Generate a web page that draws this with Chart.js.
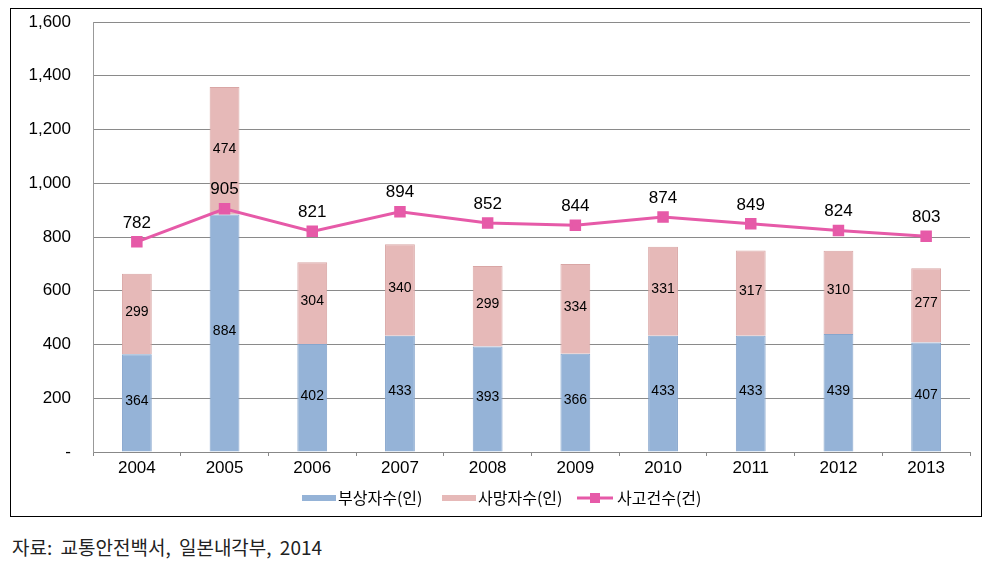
<!DOCTYPE html>
<html>
<head>
<meta charset="utf-8">
<script src="https://cdn.jsdelivr.net/npm/chart.js@4"></script>
<style>
  body { margin: 0; background: #fff; }
  #wrap { position: relative; width: 996px; height: 563px; background: #fff; }
  #box { position: absolute; left: 10px; top: 8px; width: 970px; height: 507px; border: 1px solid #000; }
  #src { position: absolute; left: 12px; top: 533px; font: 19px "Noto Sans CJK KR", sans-serif; color: #222; word-spacing: 4px; }
</style>
</head>
<body>
<div id="wrap">
  <div id="box"><canvas id="chart" width="970" height="507"></canvas></div>
  <div id="src">자료: 교통안전백서, 일본내각부, 2014</div>
</div>
<script>
// values
const years = ['2004', '2005', '2006', '2007', '2008', '2009', '2010', '2011', '2012', '2013'];
const injured = [364, 884, 402, 433, 393, 366, 433, 433, 439, 407];
const deaths = [299, 474, 304, 340, 299, 334, 331, 317, 310, 277];
const accidents = [782, 905, 821, 894, 852, 844, 874, 849, 824, 803];
const seriesNames = ['부상자수(인)', '사망자수(인)', '사고건수(건)'];

const blue = '#95B3D7';
const pink = '#E6B9B8';
const magenta = '#E65AA8';

// value labels inside bars and above line points
const valueLabels = {
  id: 'valueLabels',
  afterDatasetsDraw(chart) {
    const c = chart.ctx;
    c.save();
    c.textAlign = 'center';
    c.textBaseline = 'middle';
    c.fillStyle = '#000';
    chart.data.datasets.forEach((ds, i) => {
      const meta = chart.getDatasetMeta(i);
      meta.data.forEach((el, j) => {
        if (ds.type === 'line') {
          c.font = '17px "Liberation Sans", Arial, sans-serif';
          c.fillText(ds.data[j].toLocaleString(), el.x, el.y - 19);
        } else {
          c.font = '14px "Liberation Sans", Arial, sans-serif';
          c.fillText(ds.data[j], el.x, (el.y + el.base) / 2 - 2);
        }
      });
    });
    c.restore();
  }
};

// legend drawn like the original (wide thin swatches)
const customLegend = {
  id: 'customLegend',
  afterDraw(chart) {
    const c = chart.ctx;
    const y = 489;
    c.save();
    c.font = '16px "Noto Sans CJK KR", sans-serif';
    c.textBaseline = 'middle';
    c.fillStyle = blue;
    c.fillRect(291, y - 3, 34, 6);
    c.fillStyle = pink;
    c.fillRect(431, y - 3, 34, 6);
    c.strokeStyle = magenta;
    c.lineWidth = 3;
    c.beginPath();
    c.moveTo(566, y);
    c.lineTo(602, y);
    c.stroke();
    c.fillStyle = magenta;
    c.fillRect(579, y - 5, 10, 10);
    c.fillStyle = '#000';
    c.fillText(seriesNames[0], 327, y);
    c.fillText(seriesNames[1], 467, y);
    c.fillText(seriesNames[2], 606, y);
    c.restore();
  }
};

new Chart(document.getElementById('chart'), {
  data: {
    labels: years,
    datasets: [
      {
        type: 'line',
        label: seriesNames[2],
        data: accidents,
        stack: 'line',
        borderColor: magenta,
        backgroundColor: magenta,
        borderWidth: 3,
        pointStyle: 'rect',
        pointRadius: 6,
        pointHoverRadius: 6,
        tension: 0,
        order: 0
      },
      {
        type: 'bar',
        label: seriesNames[0],
        data: injured,
        stack: 'bars',
        backgroundColor: blue,
        borderColor: '#86a5cc',
        borderWidth: 1,
        barPercentage: 0.34,
        categoryPercentage: 1,
        order: 1
      },
      {
        type: 'bar',
        label: seriesNames[1],
        data: deaths,
        stack: 'bars',
        backgroundColor: pink,
        borderColor: '#d9a6a5',
        borderWidth: 1,
        barPercentage: 0.34,
        categoryPercentage: 1,
        order: 1
      }
    ]
  },
  options: {
    responsive: false,
    animation: false,
    layout: { padding: { top: 13, right: 11, left: 0, bottom: 0 } },
    plugins: {
      legend: { display: false },
      tooltip: { enabled: false }
    },
    scales: {
      x: {
        stacked: true,
        offset: true,
        afterFit(scale) { scale.height = 64; },
        grid: { offset: true, drawOnChartArea: false, color: '#888', tickLength: 4 },
        border: { color: '#888' },
        ticks: {
          color: '#000',
          padding: 2,
          font: { size: 17, family: '"Liberation Sans", Arial, sans-serif' }
        }
      },
      y: {
        stacked: true,
        min: 0,
        max: 1600,
        afterFit(scale) {
          scale.width = 82;
          scale.paddingTop = 0;
          scale.paddingBottom = 0;
        },
        grid: { color: '#8a8a8a', drawTicks: false },
        border: { color: '#999' },
        ticks: {
          stepSize: 200,
          color: '#000',
          padding: 22,
          font: { size: 17, family: '"Liberation Sans", Arial, sans-serif' },
          callback: v => v === 0 ? '-' : v.toLocaleString('en-US')
        }
      }
    }
  },
  plugins: [valueLabels, customLegend]
});
</script>
</body>
</html>
